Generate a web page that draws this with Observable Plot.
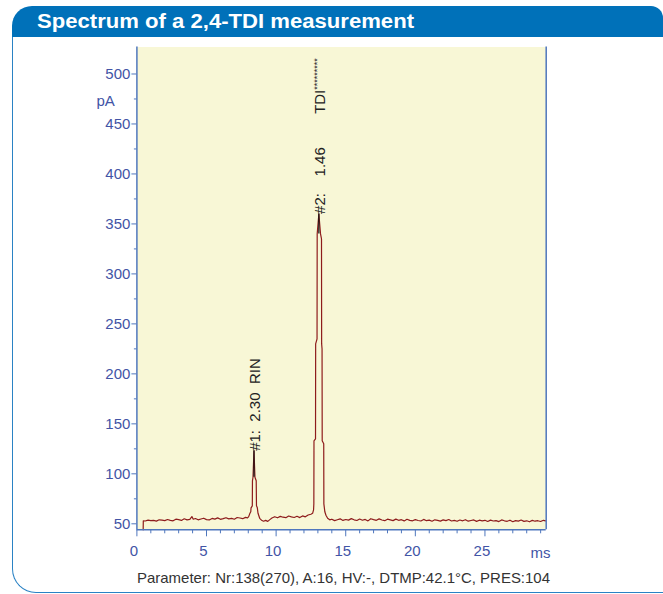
<!DOCTYPE html>
<html><head><meta charset="utf-8">
<script src="https://cdn.jsdelivr.net/npm/d3@7"></script>
<script src="https://cdn.jsdelivr.net/npm/@observablehq/plot@0.6"></script>
<style>
html,body{margin:0;padding:0;background:#fff;}
#page{position:relative;width:663px;height:594px;overflow:hidden;font-family:"Liberation Sans",Arial,sans-serif;}
#frame{position:absolute;left:12px;top:30px;width:720px;height:562px;border-left:1.5px solid #2a82c4;border-bottom:1.5px solid #2a82c4;border-bottom-left-radius:24px;}
#header{position:absolute;left:12px;top:6px;width:651px;height:31px;background:#0071b9;border-radius:20px 12px 0 0;}
#title{position:absolute;left:37px;top:6px;line-height:31px;height:31px;color:#fff;font-weight:bold;font-size:19.5px;white-space:nowrap;transform-origin:0 50%;}
#chart{position:absolute;left:0;top:40px;}
#caption{position:absolute;left:137px;top:569px;font-size:15px;color:#333;white-space:nowrap;transform-origin:0 0;line-height:17px;}
</style>
</head>
<body>
<div id="page">
  <div id="frame"></div>
  <div id="header"></div>
  <div id="title">Spectrum of a 2,4-TDI measurement</div>
  <div id="chart"></div>
  <div id="caption">Parameter: Nr:138(270), A:16, HV:-, DTMP:42.1°C, PRES:104</div>
</div>
<script>
const traceTime = [0.45,0.46,0.6,0.8,1.0,1.2,1.4,1.6,1.8,2.0,2.2,2.4,2.6,2.8,3.0,3.2,3.4,3.6,3.8,3.95,4.05,4.2,4.4,4.6,4.8,5.0,5.2,5.4,5.6,5.8,6.0,6.2,6.4,6.6,6.8,7.0,7.2,7.4,7.6,7.8,7.95,
  8.03,8.12,8.18,8.20,8.29,8.30,8.34,8.41,8.48,8.57,8.59,8.65,8.70,8.82,8.95,9.1,9.25,9.4,9.55,9.7,9.9,10.1,10.3,10.5,10.7,10.9,11.1,11.3,11.5,11.7,11.9,12.1,12.3,12.5,
  12.62,12.69,12.71,12.72,12.83,12.84,12.94,12.95,13.07,13.19,13.26,13.27,13.30,13.31,13.42,13.43,13.50,13.58,13.70,13.85,
  14.0,14.2,14.4,14.6,14.8,15.0,15.2,15.4,15.6,15.8,16.0,16.2,16.4,16.6,16.8,17.0,17.2,17.4,17.6,17.8,18.0,18.2,18.4,18.6,18.8,19.0,19.2,19.4,19.6,19.8,
  20.0,20.2,20.4,20.6,20.8,21.0,21.2,21.4,21.6,21.8,22.0,22.2,22.4,22.6,22.8,23.0,23.2,23.4,23.6,23.8,24.0,24.2,24.4,24.6,24.8,
  25.0,25.2,25.4,25.6,25.8,26.0,26.2,26.4,26.6,26.8,27.0,27.2,27.4,27.6,27.8,28.0,28.2,28.4,28.6,28.8,29.0,29.2,29.35];
const tracePA = [44,53.0,52.8,53.7,53.1,53.4,52.7,54.0,53.6,53.2,54.3,53.5,53.0,54.6,54.1,53.4,55.0,53.9,54.4,57.2,54.6,55.3,54.0,54.8,55.6,54.2,53.9,55.4,54.7,55.9,54.5,55.2,56.1,54.9,55.5,54.6,56.3,55.8,55.1,56.4,56.0,
  57.2,60.5,62,66,68,93,96.6,123,96.6,93,68,66,60.5,55.5,53.6,52.6,53.4,52.4,54.2,55.8,57.1,56.0,57.4,56.6,56.1,57.8,56.9,56.3,57.5,56.2,57.9,57.0,58.8,59.6,
  60.5,64,70,133,135,230,235,340,360,340,335,230,225,133,130,70,62,58.5,55.5,54.0,
  54.6,53.2,54.1,55.0,53.4,54.3,53.7,55.2,54.0,53.3,54.8,53.6,54.4,52.9,55.1,54.2,53.5,54.9,53.8,53.1,54.6,53.9,53.2,54.7,53.5,54.1,52.9,54.5,53.4,53.0,
  54.2,53.3,52.8,54.4,53.1,53.7,52.6,54.0,53.5,52.7,53.9,53.2,54.3,52.8,53.4,52.5,53.8,53.0,54.1,52.6,53.3,53.9,52.4,53.6,52.9,
  53.5,52.3,53.7,52.8,53.2,52.2,53.9,53.0,52.5,53.6,52.1,53.2,52.7,53.8,52.4,53.0,52.0,53.4,52.6,53.1,52.3,53.5,53.0];

const peakTime = [8.41, 13.07];
const peakApexPA = [123, 360];
const peakMarkPA = [96.6, 340];
const peakLabel = ["#1:\u00a0\u00a02.30\u00a0\u00a0RIN", "#2:\u00a0\u00a0\u00a0\u00a01.46\u00a0\u00a0\u00a0\u00a0\u00a0\u00a0\u00a0\u00a0TDI"];
const peakSuffix = ["", "*********"];

const xDomain = [0, 29.4];
const yDomain = [44, 527];
const xMajor = [0, 5, 10, 15, 20, 25];
const xMinor = [1,2,3,4,6,7,8,9,11,12,13,14,16,17,18,19,21,22,23,24,26,27,28,29];
const yMajor = [50, 100, 150, 200, 250, 300, 350, 400, 450, 500];
const yMinor = [75, 125, 175, 225, 275, 325, 375, 425, 475];
const yUnit = "pA";
const xUnit = "ms";

const trace = traceTime.map((t, i) => ({t, v: tracePA[i]}));
const peaks = peakTime.map((t, i) => ({t, apex: peakApexPA[i], mark: peakMarkPA[i], label: peakLabel[i]}));

const axisBlue = "#4f77bd", labelBlue = "#4254a6";

const chart = Plot.plot({
  width: 600, height: 530,
  marginLeft: 136.4, marginRight: 54.3, marginTop: 6.5, marginBottom: 40.7,
  x: {domain: xDomain},
  y: {domain: yDomain},
  style: {fontFamily: "Liberation Sans, Arial, sans-serif", fontSize: "15px", background: "transparent", overflow: "visible"},
  marks: [
    Plot.frame({fill: "#f8f7d6", stroke: "none"}),
    Plot.line(trace, {x: "t", y: "v", stroke: "#8e1c1c", strokeWidth: 1.2}),
    Plot.ruleX(peaks, {x: "t", y1: "mark", y2: "apex", stroke: "#111", strokeWidth: 1.2}),
    Plot.text(peaks, {x: "t", y: "apex", text: "label", rotate: -90, textAnchor: "start", lineAnchor: "middle", dx: 1.5, fill: "#222", fontSize: 15}),
    Plot.ruleX([xDomain[0]], {stroke: axisBlue, strokeWidth: 1.5}),
    Plot.ruleX([xDomain[1]], {stroke: axisBlue, strokeWidth: 1.5}),
    Plot.ruleY([yDomain[0]], {stroke: axisBlue, strokeWidth: 1.5}),
    Plot.axisY({ticks: yMinor, tickSize: 2.5, text: null, stroke: axisBlue, label: null}),
    Plot.axisY({ticks: yMajor, tickSize: 5, tickPadding: 1.5, stroke: axisBlue, fill: labelBlue, label: null}),
    Plot.axisX({ticks: xMinor, tickSize: 4, text: null, stroke: axisBlue, label: null}),
    Plot.axisX({ticks: xMajor, tickSize: 7, text: null, stroke: axisBlue, label: null}),
    Plot.axisX({ticks: xMajor, tickSize: 0, tickPadding: 16, dx: -3, fill: labelBlue, label: null}),
    Plot.text([yUnit], {text: d => d, frameAnchor: "top-left", dx: -40.4, dy: 58.5, textAnchor: "start", lineAnchor: "bottom", fill: labelBlue}),
    Plot.text([xUnit], {text: d => d, frameAnchor: "bottom-right", dx: 4.3, dy: 27.7, textAnchor: "end", lineAnchor: "bottom", fill: labelBlue})
  ]
});
document.getElementById("chart").appendChild(chart);

// superscript-like asterisks after the TDI label
const svgns = "http://www.w3.org/2000/svg";
chart.querySelectorAll("text").forEach(el => {
  const i = peakLabel.indexOf(el.textContent);
  if (i >= 0 && peakSuffix[i]) {
    const ts = document.createElementNS(svgns, "tspan");
    ts.setAttribute("font-size", "9");
    ts.setAttribute("dy", "-5");
    ts.textContent = peakSuffix[i];
    el.appendChild(ts);
  }
});

function fit(id, w) {
  const el = document.getElementById(id);
  const r = el.getBoundingClientRect().width;
  el.style.transform = `scaleX(${w / r})`;
}
fit("title", 377);
fit("caption", 413);
</script>
</body></html>
